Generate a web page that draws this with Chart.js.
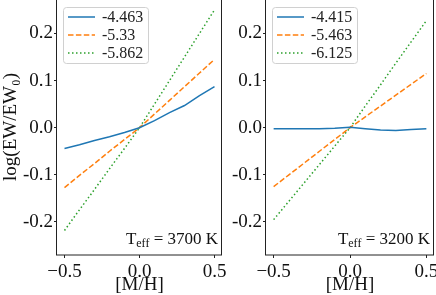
<!DOCTYPE html>
<html>
<head>
<meta charset="utf-8">
<script src="https://cdn.jsdelivr.net/npm/chart.js@4.4.1/dist/chart.umd.min.js"></script>
<style>
  html, body { margin: 0; padding: 0; background: #fff; overflow: hidden; }
  body { width: 436px; height: 295px; position: relative; }
  canvas { position: absolute; }
  #left { left: 0; top: -1px; }
  #right { left: 224px; top: -1px; }
</style>
</head>
<body>
<canvas id="left" width="236" height="296"></canvas>
<canvas id="right" width="212" height="296"></canvas>
<script>
// [M/H] grid
const metallicity = [-0.5, -0.4, -0.3, -0.2, -0.1, 0, 0.1, 0.2, 0.3, 0.4, 0.5];

// Teff = 3700 K panel
const labels3700 = ['-4.463', '-5.33', '-5.862'];
const blue3700 = [-0.044, -0.036, -0.027, -0.019, -0.010, 0, 0.015, 0.032, 0.047, 0.068, 0.087];
const orange3700 = [-0.127, -0.101, -0.076, -0.050, -0.025, 0, 0.029, 0.058, 0.087, 0.116, 0.145];
const green3700 = [-0.218, -0.174, -0.131, -0.087, -0.044, 0, 0.050, 0.100, 0.150, 0.200, 0.250];

// Teff = 3200 K panel
const labels3200 = ['-4.415', '-5.463', '-6.125'];
const blue3200 = [-0.002, -0.002, -0.002, -0.002, -0.001, 0.001, -0.002, -0.005, -0.006, -0.004, -0.002];
const orange3200 = [-0.125, -0.100, -0.075, -0.050, -0.025, 0, 0.023, 0.046, 0.069, 0.092, 0.115];
const green3200 = [-0.195, -0.156, -0.117, -0.078, -0.039, 0, 0.046, 0.091, 0.137, 0.182, 0.227];

const xTicks = [-0.5, 0, 0.5];
const yTicks = [-0.2, -0.1, 0, 0.1, 0.2];

const SERIF = '"Liberation Serif", "Times New Roman", serif';
const colors = ['#1f77b4', '#ff7f0e', '#2ca02c'];
const dashes = [[], [5.5, 2.4], [1.5, 2.5]];

function makeDatasets(labels, series) {
    return series.map((vals, i) => ({
        label: labels[i],
        data: metallicity.map((m, j) => ({ x: m, y: vals[j] })),
        borderColor: colors[i],
        borderWidth: 1.5,
        borderDash: dashes[i],
        pointRadius: 0,
        tension: 0,
        fill: false
    }));
}

// frame around the axes, inset legend and Teff label
const panelDecor = {
    id: 'panelDecor',
    afterDraw(chart, args, opts) {
        const ctx = chart.ctx;
        const a = chart.chartArea;
        ctx.save();
        ctx.strokeStyle = '#222';
        ctx.lineWidth = 1;
        ctx.strokeRect(a.left - 0.5, a.top + 0.5, a.right - a.left, a.bottom - a.top - 0.5);

        // legend
        const lx = a.left + 6, ly = a.top + 8, lw = 85, lh = 56;
        ctx.fillStyle = 'rgba(255,255,255,0.8)';
        ctx.strokeStyle = '#d0d0d0';
        ctx.beginPath();
        ctx.roundRect(lx + 0.5, ly + 0.5, lw, lh, 3);
        ctx.fill();
        ctx.stroke();
        chart.data.datasets.forEach((ds, i) => {
            const y = ly + 10 + i * 18;
            ctx.strokeStyle = ds.borderColor;
            ctx.lineWidth = ds.borderWidth;
            ctx.setLineDash(ds.borderDash);
            ctx.beginPath();
            ctx.moveTo(lx + 5, y);
            ctx.lineTo(lx + 32, y);
            ctx.stroke();
            ctx.setLineDash([]);
            ctx.fillStyle = '#222';
            ctx.font = '16px ' + SERIF;
            ctx.textBaseline = 'middle';
            ctx.textAlign = 'left';
            ctx.fillText(ds.label, lx + 39, y + 1);
        });

        // Teff label
        ctx.fillStyle = '#111';
        ctx.textBaseline = 'alphabetic';
        const rest = ' = ' + opts.teff + ' K';
        ctx.font = '17px ' + SERIF;
        const wRest = ctx.measureText(rest).width;
        const wT = ctx.measureText('T').width;
        ctx.font = '12px ' + SERIF;
        const wSub = ctx.measureText('eff').width;
        let x = a.right - 4 - wRest - wSub - wT;
        const base = a.bottom - 11;
        ctx.font = '17px ' + SERIF;
        ctx.fillText('T', x, base);
        x += wT;
        ctx.font = '12px ' + SERIF;
        ctx.fillText('eff', x, base + 3);
        x += wSub;
        ctx.font = '17px ' + SERIF;
        ctx.fillText(rest, x, base);
        ctx.restore();
    }
};

function makeChart(id, datasets, teff, yWidth, padRight, showYTitle) {
    return new Chart(document.getElementById(id), {
        type: 'line',
        data: { datasets: datasets },
        options: {
            responsive: false,
            animation: false,
            devicePixelRatio: 1,
            layout: { padding: { left: 0, right: padRight, top: 0, bottom: 0 } },
            plugins: {
                legend: { display: false },
                tooltip: { enabled: false },
                panelDecor: { teff: teff }
            },
            scales: {
                x: {
                    type: 'linear',
                    min: -0.55,
                    max: 0.55,
                    afterBuildTicks: s => { s.ticks = xTicks.map(v => ({ value: v })); },
                    afterFit: s => { s.height = 40; s.paddingLeft = 0; s.paddingRight = 0; },
                    grid: { display: true, drawOnChartArea: false, drawTicks: true, tickLength: 3, color: '#222' },
                    border: { display: false },
                    ticks: {
                        padding: 3,
                        color: '#111',
                        maxRotation: 0,
                        font: { family: SERIF, size: 19 },
                        callback: v => (v < 0 ? '\u2212' : '') + Math.abs(v).toFixed(1)
                    },
                    title: {
                        display: true,
                        text: '[M/H]',
                        color: '#111',
                        padding: { top: 0, bottom: -1 },
                        font: { family: SERIF, size: 19 }
                    }
                },
                y: {
                    min: -0.27,
                    max: 0.273,
                    afterBuildTicks: s => { s.ticks = yTicks.map(v => ({ value: v })); },
                    afterFit: s => { s.width = yWidth; s.paddingTop = 0; s.paddingBottom = 0; },
                    grid: { display: true, drawOnChartArea: false, drawTicks: true, tickLength: 3, color: '#222' },
                    border: { display: false },
                    ticks: {
                        padding: 1,
                        color: '#111',
                        font: { family: SERIF, size: 19 },
                        callback: v => (Math.abs(v) < 1e-9 ? 0 : v).toFixed(1)
                    },
                    title: {
                        display: showYTitle,
                        text: 'log(EW/EW\u2080)',
                        color: '#111',
                        padding: 0,
                        font: { family: SERIF, size: 19 }
                    }
                }
            }
        },
        plugins: [panelDecor]
    });
}

makeChart('left', makeDatasets(labels3700, [blue3700, orange3700, green3700]), 3700, 57, 14, true);
makeChart('right', makeDatasets(labels3200, [blue3200, orange3200, green3200]), 3200, 42, 2, false);
</script>
</body>
</html>
